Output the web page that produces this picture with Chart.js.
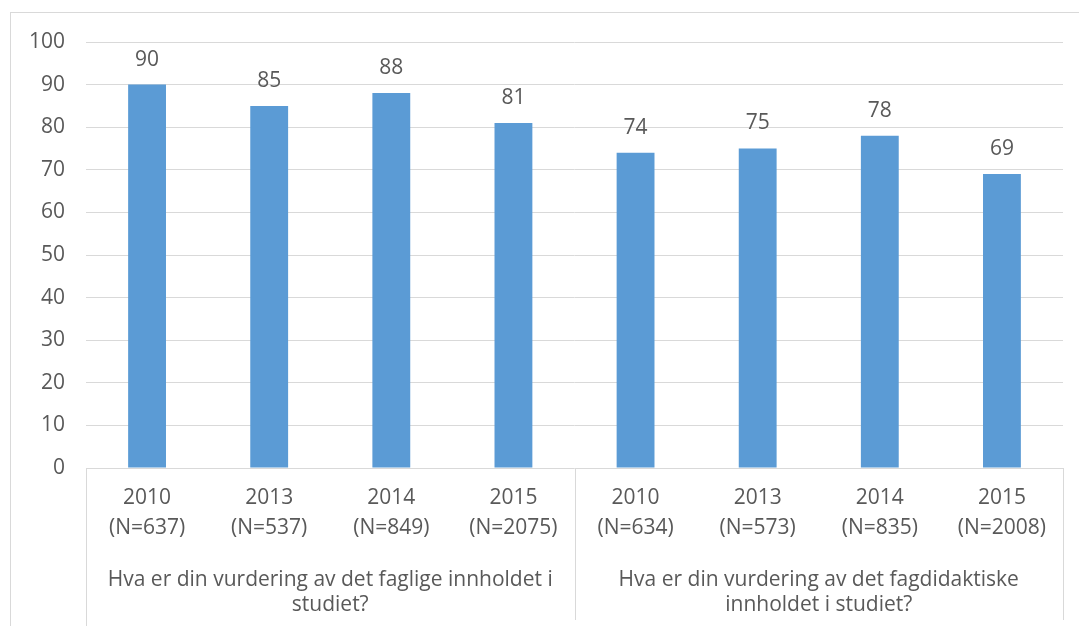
<!DOCTYPE html>
<html>
<head>
<meta charset="utf-8">
<script src="https://cdn.jsdelivr.net/npm/chart.js@4.4.0/dist/chart.umd.min.js"></script>
<style>
  html, body { margin: 0; padding: 0; background: #fff; }
  #wrap { width: 1079px; height: 626px; }
</style>
</head>
<body>
<div id="wrap"><canvas id="chart" width="1079" height="626"></canvas></div>
<script>
const years = ['2010', '2013', '2014', '2015', '2010', '2013', '2014', '2015'];
const sampleSizes = ['(N=637)', '(N=537)', '(N=849)', '(N=2075)', '(N=634)', '(N=573)', '(N=835)', '(N=2008)'];
const scores = [90, 85, 88, 81, 74, 75, 78, 69];
const groupLabels = [
  ['Hva er din vurdering av det faglige innholdet i', 'studiet?'],
  ['Hva er din vurdering av det fagdidaktiske', 'innholdet i studiet?']
];
const yTicks = [0, 10, 20, 30, 40, 50, 60, 70, 80, 90, 100];

const TEXT = '#595959';
const LINE = '#D9D9D9';
const FONT = '"Open Sans", Lato, sans-serif';

// frame round the chart + the boxes under the category axis
const framePlugin = {
  id: 'frame',
  afterDraw(chart) {
    const ctx = chart.ctx;
    const area = chart.chartArea;
    const x = chart.scales.x;
    ctx.save();
    ctx.strokeStyle = LINE;
    ctx.lineWidth = 1;
    ctx.strokeRect(10.5, 12.5, 1200, 800);
    const half = (x.getPixelForValue(3) + x.getPixelForValue(4)) / 2;
    [area.left, half, area.right].forEach(px => {
      ctx.beginPath();
      ctx.moveTo(Math.round(px) + 0.5, area.bottom);
      ctx.lineTo(Math.round(px) + 0.5, px === area.left ? 626 : 620);
      ctx.stroke();
    });
    ctx.restore();
  }
};

// value labels above bars
const valuePlugin = {
  id: 'values',
  afterDatasetsDraw(chart) {
    const ctx = chart.ctx;
    const meta = chart.getDatasetMeta(0);
    ctx.save();
    ctx.fillStyle = TEXT;
    ctx.font = '21px ' + FONT;
    ctx.textAlign = 'center';
    ctx.textBaseline = 'middle';
    meta.data.forEach((bar, i) => {
      ctx.fillText(String(scores[i]), bar.x, bar.y - 25);
    });
    ctx.restore();
  }
};

new Chart(document.getElementById('chart').getContext('2d'), {
  type: 'bar',
  data: {
    labels: years.map((y, i) => [y, sampleSizes[i]]),
    datasets: [{
      data: scores,
      backgroundColor: '#5B9BD5',
      borderWidth: 0,
      barPercentage: 0.62,
      categoryPercentage: 0.5
    }]
  },
  options: {
    responsive: false,
    animation: false,
    layout: { padding: { top: 42, right: 16, bottom: 0, left: 0 } },
    plugins: { legend: { display: false }, tooltip: { enabled: false } },
    scales: {
      y: {
        min: 0,
        max: 100,
        afterBuildTicks(axis) { axis.ticks = yTicks.map(v => ({ value: v })); },
        afterFit(axis) { axis.width = 86; },
        grid: { color: LINE, drawTicks: false },
        border: { display: false },
        ticks: { color: TEXT, font: { family: FONT, size: 21 }, padding: 21 }
      },
      x: {
        weight: 0,
        afterFit(axis) { axis.height = 80; },
        grid: { display: false },
        border: { display: false },
        ticks: {
          color: TEXT,
          font: { family: FONT, size: 21, lineHeight: 1.43 },
          padding: 7,
          maxRotation: 0,
          autoSkip: false
        }
      },
      x2: {
        type: 'category',
        position: 'bottom',
        weight: 1,
        labels: groupLabels,
        offset: true,
        afterFit(axis) { axis.height = 78; },
        grid: { display: false },
        border: { display: false },
        ticks: {
          color: TEXT,
          font: { family: FONT, size: 21, lineHeight: 1.2 },
          padding: 11,
          maxRotation: 0,
          autoSkip: false
        }
      }
    }
  },
  plugins: [framePlugin, valuePlugin]
});
</script>
</body>
</html>
